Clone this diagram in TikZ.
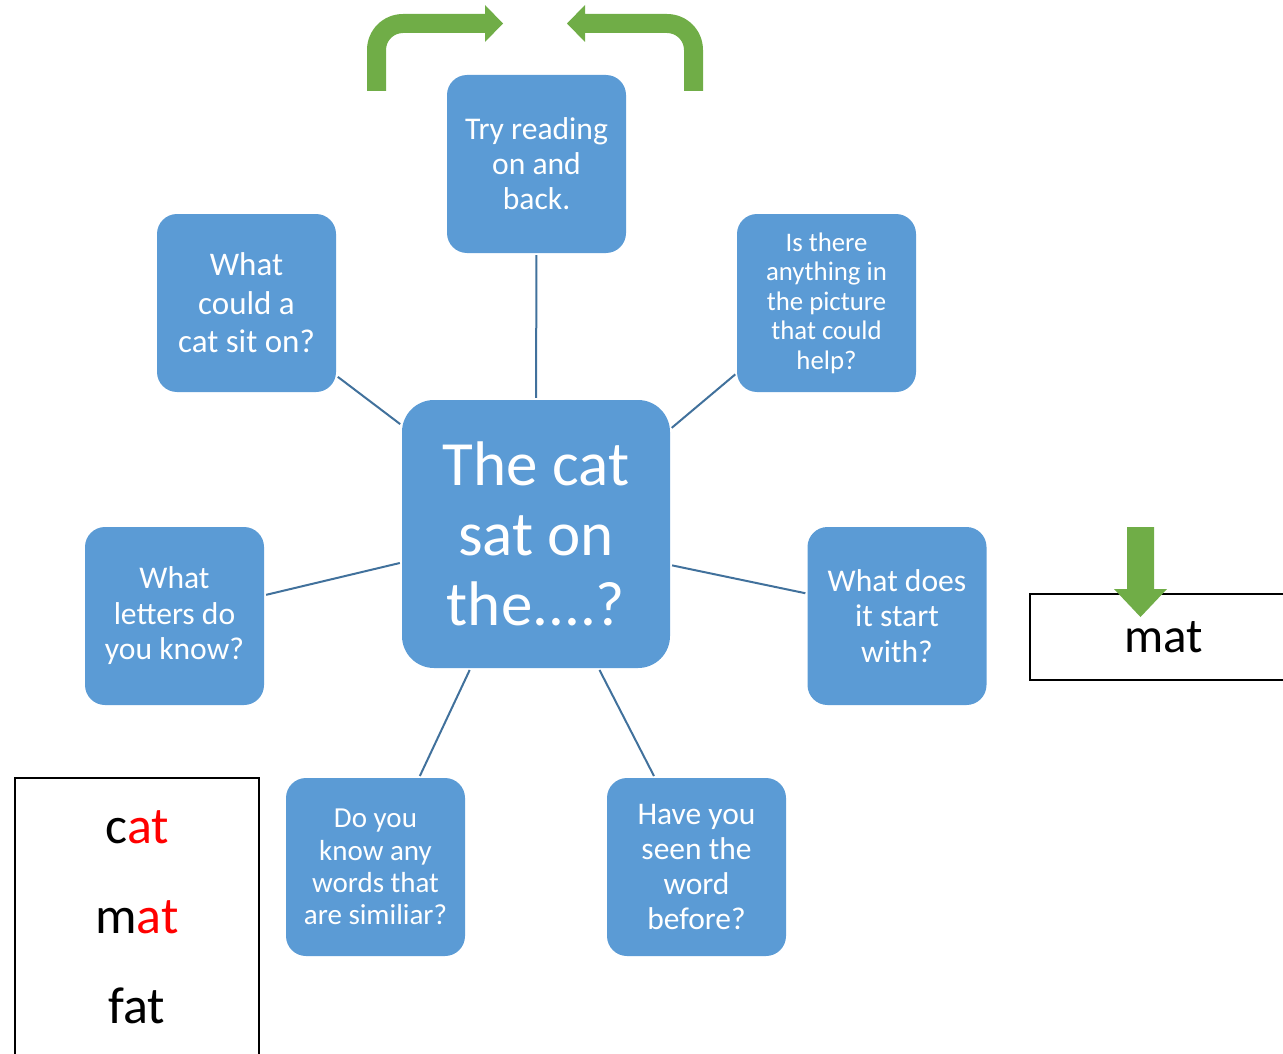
\documentclass[tikz,border=0pt]{standalone}
\usepackage{fontspec}
\setmainfont{Carlito}
\usepackage{xcolor}
\definecolor{boxblue}{HTML}{5B9BD5}
\definecolor{arrowgreen}{HTML}{70AD47}
\definecolor{linkblue}{HTML}{41719C}
\begin{document}
\begin{tikzpicture}[x=1pt,y=-1pt,
  qbox/.style={rectangle, rounded corners=20pt, fill=boxblue, text=white,
    minimum width=179pt, minimum height=178pt, align=center, inner sep=2pt},
  hub/.style={qbox, rounded corners=32pt, minimum width=268pt, minimum height=268pt},
  link/.style={draw=linkblue, line width=2pt, shorten <=2pt, shorten >=2pt},
  wordbox/.style={rectangle, draw=black, line width=1.3pt, fill=white, align=center},
  greenarrow/.style={fill=arrowgreen, draw=none}
]
\path[use as bounding box] (0,0) rectangle (1283,1054);
\clip (0,0) rectangle (1283,1054);

% central question
\node[hub, font=\fontsize{63}{70}\selectfont] (c) at (536,534) {The cat\\sat on\\the....?};

% strategy prompts
\node[qbox, font=\fontsize{31.6}{35}\selectfont] (t) at (536.5,164) {Try reading\\on and\\back.};
\node[qbox, font=\fontsize{33}{38.5}\selectfont] (lu) at (246.5,303) {What\\could a\\cat sit on?};
\node[qbox, font=\fontsize{26.8}{29.5}\selectfont] (ru) at (826.5,303) {Is there\\anything in\\the picture\\that could\\help?};
\node[qbox, font=\fontsize{31.6}{35.5}\selectfont] (l) at (174.5,616) {What\\letters do\\you know?};
\node[qbox, font=\fontsize{31.6}{35.5}\selectfont] (r) at (897,616) {What does\\it start\\with?};
\node[qbox, font=\fontsize{29}{32.3}\selectfont] (bl) at (375.5,867) {Do you\\know any\\words that\\are similiar?};
\node[qbox, font=\fontsize{31.5}{34.7}\selectfont] (br) at (696.5,867) {Have you\\seen the\\word\\before?};

% spokes
\draw[link] (c.north) -- (t.south);
\draw[link] (c.141.3) -- (lu.321.4);
\draw[link] (c.38.7) -- (ru.218.6);
\draw[link] (c.192.8) -- (l.13.2);
\draw[link] (c.347.2) -- (r.166.4);
\draw[link] (c.244.3) -- (bl.64.2);
\draw[link] (c.295.7) -- (br.115.8);

% word boxes (both run past the page edge)
\node[wordbox, minimum width=268pt, minimum height=86pt, font=\fontsize{49}{55}\selectfont] (ans) at (1164,637) {mat};
\node[wordbox, minimum width=244pt, minimum height=278pt, font=\fontsize{52}{90}\selectfont] (rhyme) at (137,917)
  {c\textcolor{red}{at}\\m\textcolor{red}{at}\\fat};

% read on and back arrows
\fill[greenarrow] (367,91) -- (367,50) .. controls (367,30) and (383,14) .. (403,14)
  -- (485,14) -- (485,5) -- (503,23.5) -- (485,42) -- (485,33) -- (403,33)
  .. controls (393.6,33) and (386,40.6) .. (386,50) -- (386,91) -- cycle;
\fill[greenarrow] (703,91) -- (703,50) .. controls (703,30) and (687,14) .. (667,14)
  -- (585,14) -- (585,5) -- (567,23.5) -- (585,42) -- (585,33) -- (667,33)
  .. controls (676.4,33) and (684,40.6) .. (684,50) -- (684,91) -- cycle;

% arrow onto the answer
\fill[greenarrow] (1127,527) -- (1154,527) -- (1154,589) -- (1167,589) -- (1140.5,617)
  -- (1114,589) -- (1127,589) -- cycle;
\end{tikzpicture}
\end{document}
